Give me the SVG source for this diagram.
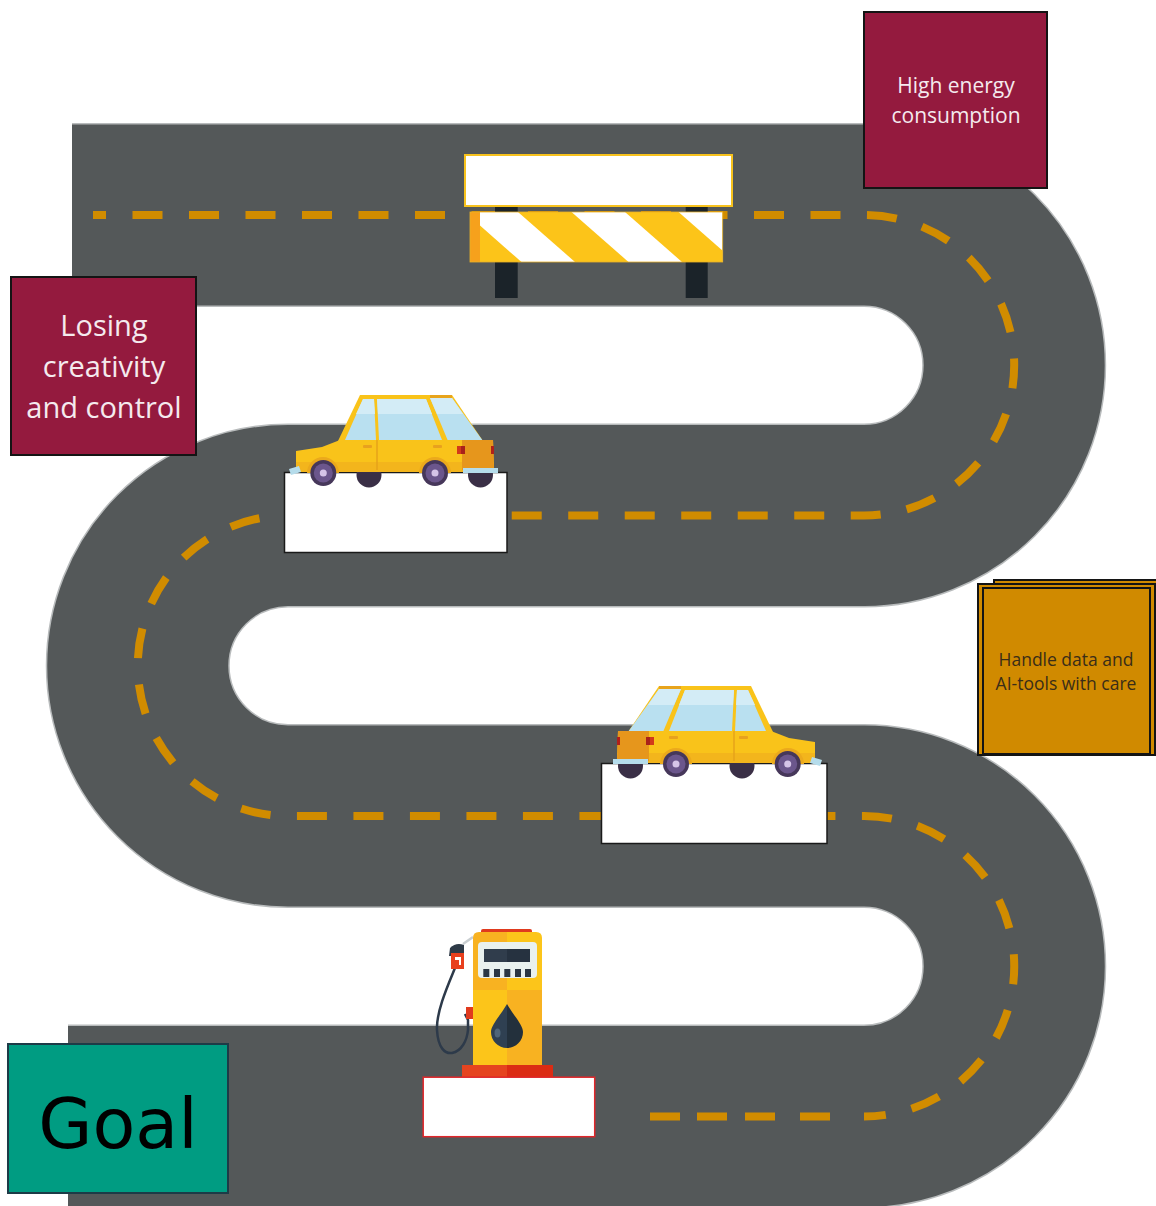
<svg xmlns="http://www.w3.org/2000/svg" xmlns:xlink="http://www.w3.org/1999/xlink" width="1156" height="1206" viewBox="0 0 1156 1206">
  <style>
    .road-edge { fill: none; stroke: #b8bbbc; stroke-width: 184; stroke-linecap: butt; stroke-linejoin: round; }
    .road { fill: none; stroke: #545859; stroke-width: 181; stroke-linecap: butt; stroke-linejoin: round; }
    .lane { fill: none; stroke: #d18c00; stroke-width: 8; stroke-dasharray: 30 26.5; stroke-dashoffset: 17; }
    .lane-end { fill: none; stroke: #d18c00; stroke-width: 8; stroke-dasharray: 30 25 30 18 30 17 30 40; }
    .maroon { fill: #941a3e; stroke: #141414; stroke-width: 2; }
    .amber { fill: #d08a00; stroke: #141414; stroke-width: 2; }
    .label-light { font-family: "Open Sans", "Noto Sans", sans-serif; fill: #f5eaee; text-anchor: middle; }
    .label-dark { font-family: "Open Sans", "Noto Sans", sans-serif; fill: #3a2d18; text-anchor: middle; }
    .plate { fill: #ffffff; stroke: #1a1a1a; stroke-width: 1.5; }
    .glass { fill: #b9e0f0; }
    .glass-hi { fill: #d3ecf6; }
  </style>
  <defs>
    <clipPath id="board-clip">
      <rect x="480" y="212" width="242.7" height="50"/>
    </clipPath>
    <!-- side view of a small yellow car, nose pointing left -->
    <g id="car">
      <!-- far-side wheels -->
      <circle cx="369" cy="475" r="12.5" fill="#3a2f46"/>
      <circle cx="480.5" cy="475" r="12.5" fill="#3a2f46"/>
      <!-- cabin -->
      <polygon points="338,441 360,395 452,395 483,441" fill="#f9c31a"/>
      <rect x="430" y="395" width="22" height="3" fill="#e8a41c"/>
      <polygon class="glass" points="345,440 363,399 374,399 376,440"/>
      <polygon class="glass" points="379,440 377,399 426,399 442,440"/>
      <polygon class="glass" points="430,398 452,398 483,441 448,441"/>
      <polygon class="glass-hi" points="356,414 363,399 374,399 375,414"/>
      <polygon class="glass-hi" points="378,414 377,399 426,399 432,414"/>
      <polygon class="glass-hi" points="430,398 452,398 463,414 437,414"/>
      <!-- body -->
      <polygon points="296,451 322,447 340,440 493,440 494,470 296,472" fill="#f9c31a"/>
      <rect x="296" y="462" width="198" height="10" fill="#f3b51c"/>
      <polygon points="462,440 493,440 494,470 462,470" fill="#e6961c"/>
      <line x1="377" y1="440" x2="377" y2="470" stroke="#e6a31a" stroke-width="1.5"/>
      <rect x="363" y="445" width="9" height="3" rx="1" fill="#e8a11e"/>
      <rect x="433" y="445" width="9" height="3" rx="1" fill="#e8a11e"/>
      <!-- tail lights -->
      <rect x="457" y="446" width="8" height="8" fill="#d23a1a"/>
      <rect x="461" y="446" width="4" height="8" fill="#a9211a"/>
      <rect x="491" y="446" width="3" height="8" fill="#b0201a"/>
      <!-- bumpers -->
      <polygon points="289,469 299,466 301,472 291,475" fill="#b5dceb"/>
      <rect x="463" y="468" width="35" height="5" fill="#b5dceb"/>
      <!-- near-side wheels -->
      <path d="M307,473 A16,16 0 0 1 339,473 Z" fill="#eba91c"/>
      <path d="M419,473 A16,16 0 0 1 451,473 Z" fill="#eba91c"/>
      <circle cx="323.3" cy="473" r="13" fill="#46375a"/>
      <circle cx="323.3" cy="473" r="9.5" fill="#6b568c"/>
      <circle cx="323.3" cy="473" r="3.5" fill="#d5c4e8"/>
      <circle cx="435" cy="473" r="13" fill="#46375a"/>
      <circle cx="435" cy="473" r="9.5" fill="#6b568c"/>
      <circle cx="435" cy="473" r="3.5" fill="#d5c4e8"/>
    </g>
  </defs>

  <rect width="1156" height="1206" fill="#ffffff"/>

  <!-- winding road with its centre lane markings -->
  <g id="connectors">
    <path class="road-edge" d="M72,215 H864 A150.25,150.25 0 0 1 864,515.5 H288 A150.25,150.25 0 0 0 288,816 H864 A150.25,150.25 0 0 1 864,1116.5 H68"/>
    <path class="road" d="M72,215 H864 A150.25,150.25 0 0 1 864,515.5 H288 A150.25,150.25 0 0 0 288,816 H864 A150.25,150.25 0 0 1 864,1116.5 H68"/>
    <path class="lane" d="M93,215 H864 A150.25,150.25 0 0 1 864,515.5 H288 A150.25,150.25 0 0 0 288,816 H864 A150.25,150.25 0 0 1 864,1116.5"/>
    <path class="lane-end" d="M830,1116.5 H650"/>
  </g>

  <!-- road block -->
  <g id="node-barrier">
    <rect x="495" y="207" width="22.7" height="91" fill="#1b2329"/>
    <rect x="685.7" y="207" width="22" height="91" fill="#1b2329"/>
    <g clip-path="url(#board-clip)">
      <rect x="480" y="212" width="242.7" height="50" fill="#ffffff"/>
      <polygon points="411,212 464.5,212 521.5,262 468,262" fill="#fcc419"/>
      <polygon points="518,212 571.5,212 628.5,262 575,262" fill="#fcc419"/>
      <polygon points="625,212 678.5,212 735.5,262 682,262" fill="#fcc419"/>
    </g>
    <rect x="470" y="212" width="10" height="50" fill="#f6a11c"/>
    <rect x="470" y="212" width="252.7" height="50" fill="none" stroke="#e9b228" stroke-width="0.8"/>
    <rect x="465" y="155" width="267" height="51" fill="#ffffff" stroke="#f7c21d" stroke-width="2"/>
  </g>

  <!-- first car -->
  <g id="node-car1">
    <rect class="plate" x="284.5" y="472.5" width="222.5" height="80"/>
    <use xlink:href="#car" href="#car"/>
  </g>

  <!-- second car, driving the other way -->
  <g id="node-car2">
    <rect class="plate" x="601.5" y="763.5" width="225.5" height="80"/>
    <use xlink:href="#car" href="#car" transform="translate(1111,291) scale(-1,1)"/>
  </g>

  <!-- fuel station -->
  <g id="node-pump">
    <line x1="463" y1="944" x2="473" y2="937" stroke="#c9ced1" stroke-width="2.5"/>
    <path d="M455,968 C448,985 436,1012 437,1030 C438,1048 445,1054 452,1053 C462,1051 467,1040 468,1030 L468,1020 L465,1014" fill="none" stroke="#2d3a4a" stroke-width="2.5"/>
    <rect x="466" y="1007" width="7" height="12" fill="#e03a1e"/>
    <path d="M449,956 L450,948 Q456,942 464,945 L464,956 Z" fill="#2e3a47"/>
    <rect x="451" y="953" width="13" height="16" fill="#e8401e"/>
    <path d="M455,957 h6 v8 h-2 v-5 h-4 Z" fill="#ffffff"/>
    <rect x="481" y="929" width="51" height="4.5" rx="2" fill="#e03a1e"/>
    <path d="M473,990 V938 Q473,932 479,932 H507 V990 Z" fill="#f8b221"/>
    <path d="M507,990 V932 H536 Q542,932 542,938 V990 Z" fill="#fcc51a"/>
    <rect x="473" y="990" width="34" height="77" fill="#fcc51a"/>
    <rect x="507" y="990" width="35" height="77" fill="#f8b221"/>
    <rect x="478" y="942" width="59" height="36" rx="4" fill="#e9f1ef"/>
    <rect x="484" y="949" width="23" height="13" fill="#303d4c"/>
    <rect x="507" y="949" width="23" height="13" fill="#263240"/>
    <rect x="483.3" y="969" width="6" height="8" fill="#2b3744"/>
    <rect x="494" y="969" width="6" height="8" fill="#2b3744"/>
    <rect x="504.3" y="969" width="6" height="8" fill="#2b3744"/>
    <rect x="515" y="969" width="6" height="8" fill="#2b3744"/>
    <rect x="525" y="969" width="6" height="8" fill="#2b3744"/>
    <path d="M507,1004 C500,1016 491,1025 491,1032 A16,16 0 0 0 507,1048 Z" fill="#2f4052"/>
    <path d="M507,1004 C514,1016 523,1025 523,1032 A16,16 0 0 1 507,1048 Z" fill="#23303c"/>
    <ellipse cx="497.5" cy="1033" rx="3" ry="4.5" fill="#4f6579"/>
    <rect x="462" y="1065" width="45" height="12" fill="#e5441f"/>
    <rect x="507" y="1065" width="46" height="12" fill="#db2c14"/>
    <rect x="423.2" y="1077.2" width="171.5" height="59.5" fill="#ffffff" stroke="#e0262a" stroke-width="1.5"/>
  </g>

  <g id="node-high-energy">
    <rect class="maroon" x="864" y="12" width="183" height="176"/>
    <text class="label-light" x="956" y="93" font-size="21">High energy</text>
    <text class="label-light" x="956" y="123" font-size="21">consumption</text>
  </g>

  <g id="node-losing">
    <rect class="maroon" x="11" y="277" width="185" height="178"/>
    <text class="label-light" x="104" y="336" font-size="29">Losing</text>
    <text class="label-light" x="104" y="377" font-size="29">creativity</text>
    <text class="label-light" x="104" y="418" font-size="29">and control</text>
  </g>

  <g id="node-handle">
    <rect class="amber" x="994" y="580" width="180" height="166"/>
    <rect class="amber" x="978" y="584" width="177" height="171"/>
    <rect class="amber" x="983" y="588" width="167" height="166"/>
    <text class="label-dark" x="1066" y="666" font-size="17.5">Handle data and</text>
    <text class="label-dark" x="1066" y="690" font-size="17.5">AI-tools with care</text>
  </g>

  <g id="node-goal">
    <rect x="8" y="1044" width="220" height="149" fill="#009c82" stroke="#1d3b47" stroke-width="2"/>
    <text x="118" y="1148" font-family="DejaVu Sans, sans-serif" font-size="70" fill="#000000" text-anchor="middle">Goal</text>
  </g>
</svg>
